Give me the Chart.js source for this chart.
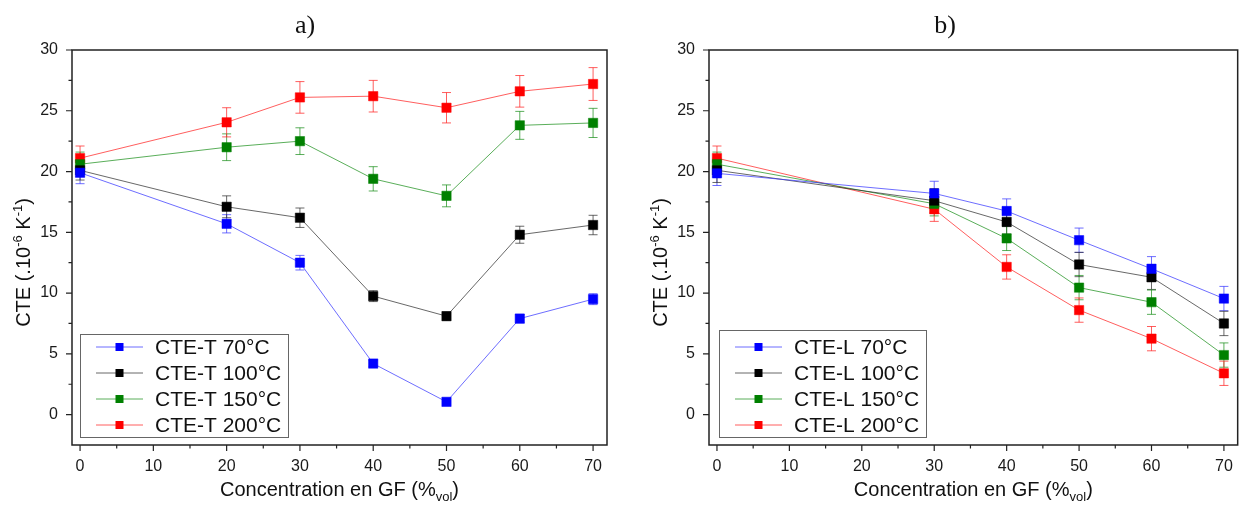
<!DOCTYPE html>
<html><head><meta charset="utf-8">
<script src="https://cdn.jsdelivr.net/npm/chart.js@4.4.1/dist/chart.umd.min.js"></script>
<style>
html,body{margin:0;padding:0;background:#fff;width:1245px;height:506px;overflow:hidden}
#pa{position:absolute;left:0;top:0}
#pb{position:absolute;left:637px;top:0}
</style></head><body>
<canvas id="pa" width="622" height="506"></canvas>
<canvas id="pb" width="608" height="506"></canvas>
<script>
// ---- data: panel a (transverse CTE) ----
const xA = [0, 20, 30, 40, 50, 60, 70];
const labelsA = ['CTE-T 70°C', 'CTE-T 100°C', 'CTE-T 150°C', 'CTE-T 200°C'];
const t70  = [19.9, 15.7, 12.5, 4.2, 1.05, 7.9, 9.5];
const t70e = [0.9, 0.75, 0.6, 0.25, 0.2, 0.35, 0.45];
const t100  = [20.1, 17.1, 16.2, 9.75, 8.1, 14.8, 15.6];
const t100e = [0.8, 0.9, 0.8, 0.45, 0.35, 0.7, 0.8];
const t150  = [20.6, 22.0, 22.5, 19.4, 18.0, 23.8, 24.0];
const t150e = [1.0, 1.1, 1.1, 1.0, 0.9, 1.15, 1.2];
const t200  = [21.1, 24.05, 26.1, 26.2, 25.25, 26.6, 27.2];
const t200e = [1.0, 1.2, 1.3, 1.3, 1.25, 1.3, 1.35];

// ---- data: panel b (longitudinal CTE) ----
const xB = [0, 30, 40, 50, 60, 70];
const labelsB = ['CTE-L 70°C', 'CTE-L 100°C', 'CTE-L 150°C', 'CTE-L 200°C'];
const l70  = [19.85, 18.2, 16.75, 14.35, 12.0, 9.55];
const l70e = [1.0, 1.0, 1.0, 1.0, 1.0, 1.0];
const l100  = [20.1, 17.6, 15.85, 12.35, 11.3, 7.5];
const l100e = [1.0, 1.0, 1.0, 1.0, 1.0, 1.0];
const l150  = [20.6, 17.35, 14.5, 10.45, 9.25, 4.9];
const l150e = [1.0, 1.0, 1.0, 1.0, 1.0, 1.0];
const l200  = [21.1, 16.9, 12.15, 8.6, 6.25, 3.4];
const l200e = [1.0, 1.0, 1.0, 1.0, 1.0, 1.0];

// ---- ticks ----
const xTicks = [0, 10, 20, 30, 40, 50, 60, 70];
const xMinor = [5, 15, 25, 35, 45, 55, 65];
const yTicks = [0, 5, 10, 15, 20, 25, 30];
const yMinor = [2.5, 7.5, 12.5, 17.5, 22.5, 27.5];

// ---- styles ----
const markerColors = ['#0000ff', '#000000', '#008000', '#ff0000'];
const lineColors = ['rgba(60,60,255,0.75)', 'rgba(40,40,40,0.7)', 'rgba(20,140,20,0.7)', 'rgba(255,40,40,0.75)'];
const SANS = '"Liberation Sans", Arial, sans-serif';
const SERIF = '"Liberation Serif", "DejaVu Serif", serif';

function drawParts(ctx, parts, cx, baseline) {
  let total = 0;
  parts.forEach(p => { ctx.font = p.size + 'px ' + SANS; p.w = ctx.measureText(p.t).width; total += p.w; });
  let x = cx - total / 2;
  ctx.textAlign = 'left'; ctx.textBaseline = 'alphabetic';
  parts.forEach(p => {
    ctx.font = p.size + 'px ' + SANS;
    ctx.fillText(p.t, x, baseline + (p.dy || 0));
    x += p.w;
  });
}

const decor = {
  id: 'decor',
  beforeDatasetsDraw(chart) {
    const ctx = chart.ctx, xs = chart.scales.x, ys = chart.scales.y;
    const o = chart.options.plugins.decor;
    ctx.save();
    chart.data.datasets.forEach((ds, i) => {
      const errs = o.errors[i];
      ctx.strokeStyle = lineColors[i];
      ctx.lineWidth = 1;
      ds.data.forEach((p, j) => {
        const e = errs[j];
        const px = xs.getPixelForValue(p.x);
        const y1 = ys.getPixelForValue(p.y - e), y2 = ys.getPixelForValue(p.y + e);
        ctx.beginPath();
        ctx.moveTo(px, y1); ctx.lineTo(px, y2);
        ctx.moveTo(px - 4.5, y1); ctx.lineTo(px + 4.5, y1);
        ctx.moveTo(px - 4.5, y2); ctx.lineTo(px + 4.5, y2);
        ctx.stroke();
      });
    });
    ctx.restore();
  },
  afterDraw(chart) {
    const ctx = chart.ctx, ca = chart.chartArea, xs = chart.scales.x, ys = chart.scales.y;
    const o = chart.options.plugins.decor;
    ctx.save();
    // frame
    ctx.strokeStyle = '#222'; ctx.lineWidth = 1.5;
    ctx.strokeRect(ca.left, ca.top, ca.right - ca.left, ca.bottom - ca.top);
    // ticks
    ctx.lineWidth = 1.2;
    ctx.beginPath();
    xTicks.forEach(v => { const p = xs.getPixelForValue(v); ctx.moveTo(p, ca.bottom); ctx.lineTo(p, ca.bottom + 6); });
    xMinor.forEach(v => { const p = xs.getPixelForValue(v); ctx.moveTo(p, ca.bottom); ctx.lineTo(p, ca.bottom + 3.5); });
    yTicks.forEach(v => { const p = ys.getPixelForValue(v); ctx.moveTo(ca.left, p); ctx.lineTo(ca.left - 6, p); });
    yMinor.forEach(v => { const p = ys.getPixelForValue(v); ctx.moveTo(ca.left, p); ctx.lineTo(ca.left - 3.5, p); });
    ctx.stroke();
    // panel title
    ctx.fillStyle = '#111';
    ctx.font = '26px ' + SERIF;
    ctx.textAlign = 'center'; ctx.textBaseline = 'alphabetic';
    ctx.fillText(o.title, o.titleX, 33);
    // x axis title
    ctx.fillStyle = '#111';
    drawParts(ctx, [
      { t: 'Concentration en GF (%', size: 20 },
      { t: 'vol', size: 13, dy: 5 },
      { t: ')', size: 20 }
    ], (ca.left + ca.right) / 2, 496);
    // y axis title
    ctx.save();
    ctx.translate(ca.left - 49, (ca.top + ca.bottom) / 2 + 15);
    ctx.rotate(-Math.PI / 2);
    drawParts(ctx, [
      { t: 'CTE (.10', size: 20 },
      { t: '-6', size: 13, dy: -8 },
      { t: ' K', size: 20 },
      { t: '-1', size: 13, dy: -8 },
      { t: ')', size: 20 }
    ], 0, 7);
    ctx.restore();
    // legend
    const L = o.legend;
    const bx = ca.left + L.dx;
    ctx.fillStyle = '#fff';
    ctx.fillRect(bx, L.top, L.width, L.bottom - L.top);
    ctx.strokeStyle = '#666'; ctx.lineWidth = 1;
    ctx.strokeRect(bx + 0.5, L.top + 0.5, L.width, L.bottom - L.top);
    chart.data.datasets.forEach((ds, i) => {
      const ry = 347 + i * 26;
      const x1 = bx + 16, x2 = bx + 63, mx = (x1 + x2) / 2;
      ctx.strokeStyle = lineColors[i]; ctx.lineWidth = 1;
      ctx.beginPath(); ctx.moveTo(x1, ry); ctx.lineTo(x2, ry); ctx.stroke();
      ctx.fillStyle = markerColors[i];
      ctx.fillRect(mx - 4, ry - 4, 8, 8);
      ctx.fillStyle = '#111';
      ctx.font = '21px ' + SANS;
      ctx.textAlign = 'left'; ctx.textBaseline = 'middle';
      ctx.fillText(ds.label, bx + 75, ry + 1);
    });
    ctx.restore();
  }
};

function makeChart(id, xs, series, errs, labels, opts) {
  const datasets = series.map((s, i) => ({
    label: labels[i],
    data: s.map((v, j) => ({ x: xs[j], y: v })),
    borderColor: lineColors[i],
    borderWidth: 1,
    backgroundColor: markerColors[i],
    pointStyle: 'rect',
    pointRadius: 6.6,
    pointBorderColor: markerColors[i],
    pointBorderWidth: 0.5,
    pointBackgroundColor: markerColors[i],
    tension: 0,
    fill: false
  }));
  return new Chart(document.getElementById(id), {
    type: 'line',
    data: { datasets },
    plugins: [decor],
    options: {
      responsive: false,
      animation: false,
      devicePixelRatio: 1,
      layout: { padding: { top: 50, right: opts.right, left: 0, bottom: 0 } },
      plugins: {
        legend: { display: false },
        tooltip: { enabled: false },
        decor: { errors: errs, title: opts.title, titleX: opts.titleX, legend: opts.legend }
      },
      scales: {
        x: {
          type: 'linear', min: -1.1, max: 71.9,
          afterBuildTicks: s => { s.ticks = xTicks.map(v => ({ value: v })); },
          afterFit: s => { s.height = 61; },
          grid: { display: false, drawTicks: false },
          border: { display: false },
          ticks: { font: { family: SANS, size: 16 }, color: '#1a1a1a', padding: 12, maxRotation: 0 }
        },
        y: {
          type: 'linear', min: -2.5, max: 30,
          afterBuildTicks: s => { s.ticks = yTicks.map(v => ({ value: v })); },
          afterFit: s => { s.width = 72; },
          grid: { display: false, drawTicks: false },
          border: { display: false },
          ticks: { font: { family: SANS, size: 16 }, color: '#1a1a1a', padding: 14 }
        }
      }
    }
  });
}

makeChart('pa', xA, [t70, t100, t150, t200], [t70e, t100e, t150e, t200e], labelsA,
  { right: 15, title: 'a)', titleX: 305, legend: { dx: 8, top: 334, bottom: 437, width: 208 } });
makeChart('pb', xB, [l70, l100, l150, l200], [l70e, l100e, l150e, l200e], labelsB,
  { right: 3, title: 'b)', titleX: 308, legend: { dx: 10, top: 330, bottom: 437, width: 207 } });
</script>
</body></html>
